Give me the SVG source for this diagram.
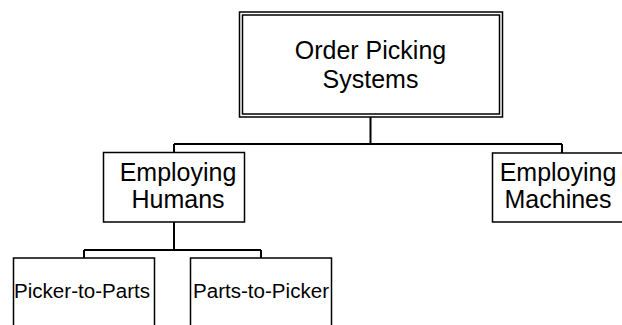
<svg xmlns="http://www.w3.org/2000/svg" width="622" height="325" viewBox="0 0 622 325">
<style>
.box{fill:#fff;stroke:#000;stroke-width:1.5}
.ln{fill:none;stroke:#000;stroke-width:2}
.t{font-family:"Liberation Sans",Arial,sans-serif;fill:#000;text-anchor:middle}
.big{font-size:25px}
.sm{font-size:20px}
</style>
<rect width="622" height="325" fill="#fff"/>
<g id="connectors">
<path class="ln" d="M370.5,117 V144 M174,144 H562 M174,144 V152 M562,144 V153"/>
<path class="ln" d="M174,222 V250 M84,250 H261 M84,250 V258 M261,250 V258"/>
</g>
<g id="order-picking-systems">
<rect class="box" x="239.5" y="12" width="263" height="105"/>
<rect class="box" x="242.5" y="15" width="257" height="99"/>
<text class="t big" x="370.5" y="59">Order Picking</text>
<text class="t big" x="370.5" y="88">Systems</text>
</g>
<g id="employing-humans">
<rect class="box" x="103.5" y="152.5" width="141" height="69.5"/>
<text class="t big" x="178" y="181">Employing</text>
<text class="t big" x="178" y="208">Humans</text>
</g>
<g id="employing-machines">
<rect class="box" x="492.5" y="153" width="141" height="69"/>
<text class="t big" x="558" y="181">Employing</text>
<text class="t big" x="558" y="208">Machines</text>
</g>
<g id="picker-to-parts">
<rect class="box" x="13.5" y="258" width="141" height="90"/>
<text class="t sm" x="82" y="298" textLength="136" lengthAdjust="spacingAndGlyphs">Picker-to-Parts</text>
</g>
<g id="parts-to-picker">
<rect class="box" x="190.5" y="258" width="141" height="90"/>
<text class="t sm" x="261" y="298" textLength="136" lengthAdjust="spacingAndGlyphs">Parts-to-Picker</text>
</g>
</svg>
